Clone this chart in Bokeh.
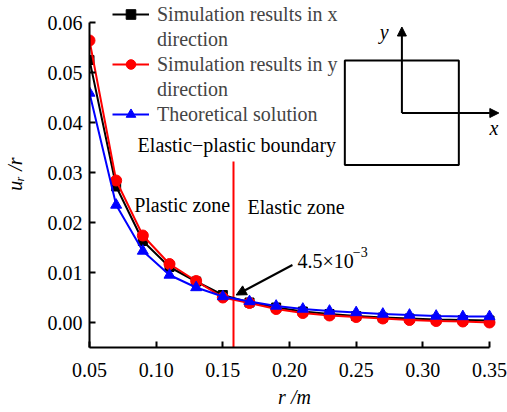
from bokeh.plotting import figure
from bokeh.models import (Range1d, FixedTicker, NumeralTickFormatter, Legend, LegendItem,
                          Label, Arrow, NormalHead, BoxAnnotation)
from bokeh.embed import file_html
from bokeh.resources import INLINE

# ---- data ----
r = [0.05, 0.07, 0.09, 0.11, 0.13, 0.15, 0.17, 0.19, 0.21, 0.23, 0.25, 0.27, 0.29, 0.31, 0.33, 0.35]
sim_x = [0.0525, 0.0272, 0.0163, 0.0111, 0.0082, 0.0055, 0.0040, 0.0030, 0.0022, 0.0017,
         0.0013, 0.0010, 0.0008, 0.0006, 0.0005, 0.0004]
sim_y = [0.0564, 0.0284, 0.0174, 0.0117, 0.0083, 0.0050, 0.0039, 0.0027, 0.0019, 0.0014,
         0.0011, 0.0008, 0.0005, 0.0003, 0.0002, 0.0000]
theory = [0.0459, 0.0235, 0.0143, 0.0095, 0.0070, 0.0052, 0.0042, 0.0033, 0.0027, 0.0023,
          0.0020, 0.0017, 0.0015, 0.0013, 0.0012, 0.0012]
boundary_r = 0.158
x_ticks = [0.05, 0.10, 0.15, 0.20, 0.25, 0.30, 0.35]
y_ticks = [0.00, 0.01, 0.02, 0.03, 0.04, 0.05, 0.06]

FONT = "Liberation Serif"
FS = "20px"

p = figure(width=507, height=412, output_backend="svg", toolbar_location=None,
           x_range=Range1d(0.05, 0.3575), y_range=Range1d(-0.005, 0.0644),
           min_border_left=89, min_border_right=8, min_border_top=0, min_border_bottom=65)
p.outline_line_color = None
p.xgrid.visible = False
p.ygrid.visible = False
p.background_fill_color = "white"

for ax in (p.xaxis[0], p.yaxis[0]):
    ax.axis_line_width = 2
    ax.major_tick_line_width = 2
    ax.major_tick_in = 6
    ax.major_tick_out = 0
    ax.minor_tick_line_color = None
    ax.major_label_text_font = FONT
    ax.major_label_text_font_size = FS
    ax.major_label_text_color = "black"
    ax.axis_label_text_font = FONT
    ax.axis_label_text_font_size = FS
    ax.axis_label_text_color = "black"
    ax.formatter = NumeralTickFormatter(format="0.00")

p.xaxis[0].ticker = FixedTicker(ticks=x_ticks)
p.xaxis[0].bounds = (0.05, 0.35)
p.yaxis[0].ticker = FixedTicker(ticks=y_ticks)
p.yaxis[0].bounds = (-0.005, 0.06)
p.xaxis[0].major_label_standoff = 15
p.yaxis[0].major_label_standoff = 7
p.yaxis[0].axis_label = "u\u1d63 /r"
p.yaxis[0].axis_label_text_font_style = "italic"
p.yaxis[0].axis_label_standoff = 19
p.xaxis[0].axis_label = "r /m"
p.xaxis[0].axis_label_text_font_style = "italic"
p.xaxis[0].axis_label_standoff = 6

# boundary line
p.segment(x0=[boundary_r], y0=[-0.005], x1=[boundary_r], y1=[0.0322], line_color="red", line_width=2)

# series
l1 = p.line(r, sim_x, line_color="black", line_width=2)
s1 = p.scatter(r, sim_x, marker="square", size=9, color="black")
l2 = p.line(r, sim_y, line_color="red", line_width=2)
s2 = p.scatter(r, sim_y, marker="circle", size=11, color="red")
l3 = p.line(r, theory, line_color="blue", line_width=2)
s3 = p.scatter(r, theory, marker="triangle", size=11, color="blue")

legend = Legend(items=[
    LegendItem(label="Simulation results in x", renderers=[l1, s1]),
    LegendItem(label="direction", renderers=[]),
    LegendItem(label="Simulation results in y", renderers=[l2, s2]),
    LegendItem(label="direction", renderers=[]),
    LegendItem(label="Theoretical solution", renderers=[l3, s3]),
], location=(23, 221), padding=0, margin=0, spacing=1, glyph_width=37, glyph_height=24,
   label_height=24, label_standoff=8,
   border_line_color=None, background_fill_alpha=0,
   label_text_font=FONT, label_text_font_size=FS)
p.add_layout(legend)

# annotations
def lab(x, y, t, **kw):
    p.add_layout(Label(x=x, y=y, text=t, text_font=FONT, text_font_size=kw.pop("fs", FS),
                       text_color="black", **kw))

lab(0.1605, 0.0355, "Elastic\u2212plastic boundary", text_align="center", text_baseline="middle")
lab(0.0835, 0.0235, "Plastic zone", text_baseline="middle")
lab(0.1685, 0.0231, "Elastic zone", text_baseline="middle")
lab(0.206, 0.0123, "4.5\u00d710", text_baseline="middle")
lab(0.2475, 0.0141, "\u22123", text_baseline="middle", fs="14px")

p.add_layout(Arrow(x_start=0.2022, y_start=0.0115, x_end=0.1600, y_end=0.0055,
                   line_width=2, line_color="black",
                   end=NormalHead(size=10, fill_color="black", line_color="black")))

# inset sketch
p.add_layout(BoxAnnotation(left=0.2415, right=0.327, bottom=0.0315, top=0.0524,
                           fill_alpha=0, line_color="black", line_alpha=1, line_width=2))
p.add_layout(Arrow(x_start=0.2843, y_start=0.0419, x_end=0.2843, y_end=0.0591,
                   line_width=2, line_color="black",
                   end=NormalHead(size=9, fill_color="black", line_color="black")))
p.add_layout(Arrow(x_start=0.2843, y_start=0.0419, x_end=0.3570, y_end=0.0419,
                   line_width=2, line_color="black",
                   end=NormalHead(size=9, fill_color="black", line_color="black")))
lab(0.271, 0.0581, "y", text_align="center", text_baseline="middle", text_font_style="italic")
lab(0.3533, 0.0389, "x", text_align="center", text_baseline="middle", text_font_style="italic")

open("out.html", "w").write(file_html(p, INLINE))
